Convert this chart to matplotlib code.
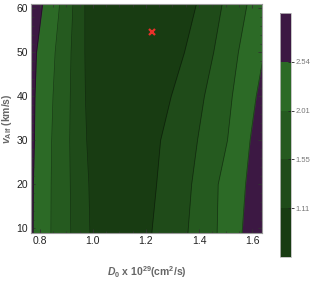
"""Contour map of fit quality over D0 and v_Alf."""

import matplotlib
matplotlib.use("Agg")
import matplotlib.pyplot as plt
from matplotlib.colors import ListedColormap, BoundaryNorm
from matplotlib.cm import ScalarMappable
from matplotlib.ticker import MultipleLocator

# v_Alf rows (km/s) at which the contour crossings were read
v_alf = [9, 20, 30, 40, 50, 61]

# D0 (1e29 cm^2/s) where each contour level is crossed, left side of the minimum
left_254 = [0.775, 0.776, 0.780, 0.782, 0.788, 0.811]
left_201 = [0.842, 0.843, 0.845, 0.850, 0.858, 0.875]
left_155 = [0.917, 0.915, 0.913, 0.915, 0.918, 0.925]
left_111 = [0.989, 0.985, 0.977, 0.972, 0.970, 0.970]
# ... and right side of the minimum
right_111 = [1.222, 1.240, 1.255, 1.295, 1.345, 1.390]
right_155 = [1.358, 1.372, 1.394, 1.420, 1.455, 1.487]
right_201 = [1.468, 1.472, 1.507, 1.525, 1.548, 1.581]
right_254 = [1.562, 1.575, 1.592, 1.615, 1.645, 1.700]

levels = [0.67, 1.11, 1.55, 2.01, 2.54, 3.00]
cbar_ticks = [1.11, 1.55, 2.01, 2.54]
colors = ["#183c12", "#1f4b19", "#255a1f", "#2c6a26", "#3c1843"]

best_d0 = [1.224]
best_valf = [54.6]

xlim = (0.767, 1.637)
ylim = (9.0, 61.0)

plt.rcParams["font.family"] = ["Liberation Sans", "DejaVu Sans"]
plt.rcParams["mathtext.fontset"] = "custom"
plt.rcParams["mathtext.it"] = "Liberation Sans:italic:bold"
plt.rcParams["mathtext.rm"] = "Liberation Sans:bold"
plt.rcParams["mathtext.bf"] = "Liberation Sans:bold"

fig = plt.figure(figsize=(3.16, 2.84), dpi=100)
ax = fig.add_axes([0.098, 0.180, 0.731, 0.806])
cax = fig.add_axes([0.886, 0.095, 0.035, 0.859])

# outer bands underneath, inner ones on top
lo, hi = xlim[0] - 0.1, xlim[1] + 0.1
ax.fill_betweenx(v_alf, [lo] * len(v_alf), [hi] * len(v_alf), color=colors[4], lw=0)
ax.fill_betweenx(v_alf, left_254, right_254, color=colors[3], lw=0)
ax.fill_betweenx(v_alf, left_201, right_201, color=colors[2], lw=0)
ax.fill_betweenx(v_alf, left_155, right_155, color=colors[1], lw=0)
ax.fill_betweenx(v_alf, left_111, right_111, color=colors[0], lw=0)

for curve in (left_254, left_201, left_155, left_111,
              right_111, right_155, right_201, right_254):
    ax.plot(curve, v_alf, color="black", lw=0.5, alpha=0.45)

ax.plot(best_d0, best_valf, "x", color="#e8312a", ms=5, mew=1.6)

ax.set_xlim(*xlim)
ax.set_ylim(*ylim)
ax.xaxis.set_major_locator(MultipleLocator(0.2))
ax.xaxis.set_minor_locator(MultipleLocator(0.05))
ax.yaxis.set_major_locator(MultipleLocator(10))
ax.yaxis.set_minor_locator(MultipleLocator(2))
ax.tick_params(which="both", direction="in", top=True, right=True,
               color="#333333", labelsize=7.5, labelcolor="#222222", pad=2)
ax.tick_params(which="major", length=3, width=0.6)
ax.tick_params(which="minor", length=1.8, width=0.5)
for s in ax.spines.values():
    s.set_color("#999999")
    s.set_linewidth(0.8)

ax.set_xlabel(r"$D_{0}$ x 10$^{29}$(cm$^{2}$/s)", fontsize=7.5,
              color="#666666", fontweight="bold", labelpad=13)
ax.set_ylabel(r"$v_{\rm Alf}$ (km/s)", fontsize=7.5, color="#666666",
              fontweight="bold", labelpad=2)

cmap = ListedColormap(colors)
norm = BoundaryNorm(levels, cmap.N)
cb = fig.colorbar(ScalarMappable(norm=norm, cmap=cmap), cax=cax,
                  ticks=cbar_ticks, spacing="uniform")
cb.ax.minorticks_off()
cb.outline.set_edgecolor("#bbbbbb")
cb.outline.set_linewidth(0.6)
cb.ax.tick_params(labelsize=5.5, labelcolor="#777777", color="#222222",
                  length=4, width=0.6, direction="inout", pad=1.5)
cb.ax.set_yticklabels([f"{t:.2f}" for t in cbar_ticks])

fig.savefig("out.png", dpi=100)
